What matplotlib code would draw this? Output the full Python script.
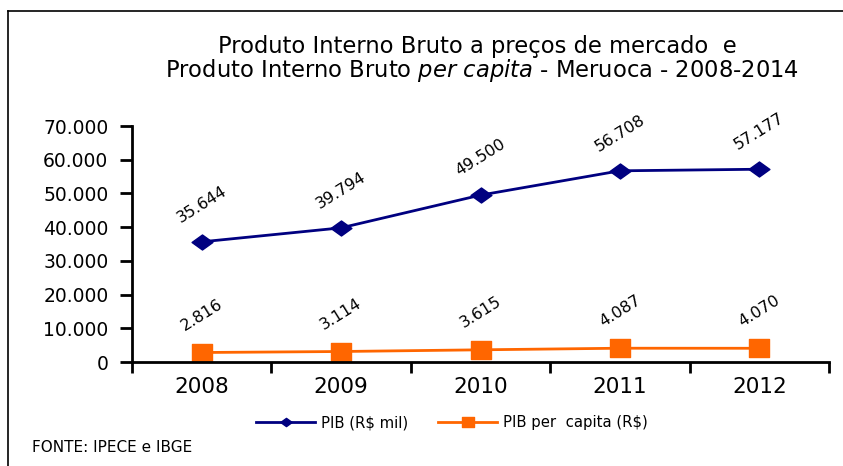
import matplotlib
matplotlib.use("Agg")
import matplotlib.pyplot as plt
from matplotlib.lines import Line2D
from matplotlib.path import Path

years = ["2008", "2009", "2010", "2011", "2012"]
pib = [35644, 39794, 49500, 56708, 57177]
pib_pc = [2816, 3114, 3615, 4087, 4070]
pib_labels = ["35.644", "39.794", "49.500", "56.708", "57.177"]
pc_labels = ["2.816", "3.114", "3.615", "4.087", "4.070"]
y_ticks = [0, 10000, 20000, 30000, 40000, 50000, 60000, 70000]
y_tick_labels = ["0", "10.000", "20.000", "30.000", "40.000", "50.000", "60.000", "70.000"]

plt.rcParams['font.family'] = ['DejaVu Sans']
plt.rcParams['mathtext.fontset'] = 'custom'
plt.rcParams['mathtext.it'] = 'DejaVu Sans:italic'
plt.rcParams['mathtext.rm'] = 'DejaVu Sans'

fig = plt.figure(figsize=(8.43, 4.66), dpi=100)
ax = fig.add_axes([132/843, 1-362/466, (829-132)/843, (362-126)/466])

wide_diamond = Path([(-1, 0), (0, 0.72), (1, 0), (0, -0.72), (-1, 0)],
                    [Path.MOVETO, Path.LINETO, Path.LINETO, Path.LINETO, Path.CLOSEPOLY])
wide_square = Path([(-1, -0.83), (1, -0.83), (1, 0.83), (-1, 0.83), (-1, -0.83)],
                   [Path.MOVETO, Path.LINETO, Path.LINETO, Path.LINETO, Path.CLOSEPOLY])

x = list(range(len(years)))
blue = "#000080"
orange = "#FF6600"
ax.plot(x, pib, color=blue, lw=2, marker=wide_diamond, ms=15, label="PIB (R$ mil)")
ax.plot(x, pib_pc, color=orange, lw=2, marker=wide_square, ms=15, label="PIB per  capita (R$)")

for xi, v, t in zip(x, pib, pib_labels):
    ax.annotate(t, (xi, v), xytext=(0, 27), textcoords="offset points",
                ha="center", va="center", rotation=32, fontsize=11.5)
for xi, v, t in zip(x, pib_pc, pc_labels):
    ax.annotate(t, (xi, v), xytext=(0, 27), textcoords="offset points",
                ha="center", va="center", rotation=32, fontsize=11.5)

ax.set_xlim(-0.5, 4.5)
ax.set_ylim(0, 70000)
ax.set_yticks(y_ticks)
ax.set_yticklabels(y_tick_labels, fontsize=13.5)
ax.set_xticks(x)
ax.set_xticklabels(years, fontsize=15.5)
ax.tick_params(axis="x", length=0, pad=11)
ax.set_xticks([-0.5, 0.5, 1.5, 2.5, 3.5, 4.5], minor=True)
ax.tick_params(axis="x", which="minor", length=8, width=2, direction="out")
ax.tick_params(axis="y", length=9, width=2, direction="out", pad=8)
for s in ["top", "right"]:
    ax.spines[s].set_visible(False)
for s in ["left", "bottom"]:
    ax.spines[s].set_linewidth(2)

fig.text(477/843, 1-47/466, "Produto Interno Bruto a preços de mercado  e",
         ha="center", va="center", fontsize=16.3)
fig.text(482/843, 1-71/466, r"Produto Interno Bruto $\mathit{per\ capita}$ - Meruoca - 2008-2014",
         ha="center", va="center", fontsize=16.3)

leg = fig.legend(loc="center", bbox_to_anchor=(452/843, 1-423/466), ncol=2,
                 frameon=False, fontsize=10.7, handlelength=4, columnspacing=2.0,
                 handletextpad=0.4, markerscale=0.55)
fig.text(32/843, 1-448/466, "FONTE: IPECE e IBGE", ha="left", va="center", fontsize=11)

# frame lines (left and top edges)
fig.add_artist(Line2D([8/843, 8/843], [0, 1-11/466], transform=fig.transFigure, color="black", lw=1.2))
fig.add_artist(Line2D([8/843, 1], [1-11/466, 1-11/466], transform=fig.transFigure, color="black", lw=1.2))

fig.savefig("out.png", dpi=100)
